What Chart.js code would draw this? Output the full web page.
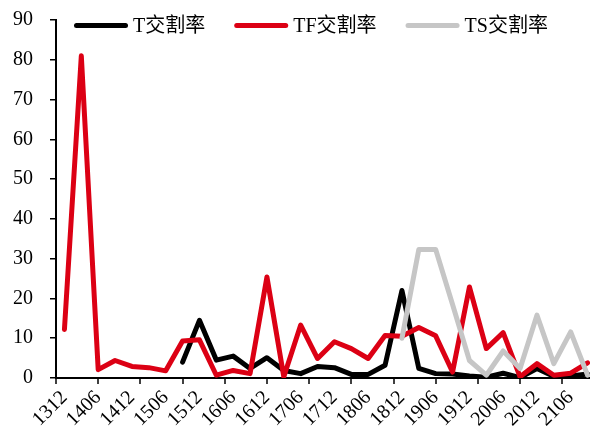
<!DOCTYPE html>
<html>
<head>
<meta charset="utf-8">
<script src="https://cdn.jsdelivr.net/npm/chart.js@4/dist/chart.umd.min.js"></script>
<style>
  html, body { margin: 0; padding: 0; overflow: hidden; background: #fff; }
  canvas { display: block; }
</style>
</head>
<body>
<canvas id="c" width="600" height="432"></canvas>
<script>
// Quarterly contracts, 1312 through 2109
const contracts = ['1312','1403','1406','1409','1412','1503','1506','1509','1512','1603','1606','1609',
  '1612','1703','1706','1709','1712','1803','1806','1809','1812','1903','1906','1909',
  '1912','2003','2006','2009','2012','2103','2106','2109'];

// Delivery rate (%) per contract
const tRate  = [null,null,null,null,null,null,null,4.0,14.5,4.5,5.5,2.4,
  5.1,1.9,1.1,2.9,2.6,0.9,0.9,3.2,22.0,2.4,1.1,1.0,
  0.5,0.2,1.2,0.1,2.4,0.4,0.5,1.0];
const tfRate = [12.2,81.0,2.1,4.4,2.9,2.6,1.8,9.3,9.6,0.7,1.9,1.1,
  25.4,0.3,13.3,4.9,9.1,7.4,4.9,10.7,10.5,12.7,10.6,1.5,
  22.9,7.4,11.4,0.3,3.6,0.7,1.2,3.8];
const tsRate = [null,null,null,null,null,null,null,null,null,null,null,null,
  null,null,null,null,null,null,null,null,10.0,32.3,32.3,18.5,
  4.4,0.7,6.8,2.4,15.8,3.6,11.6,0.7];

const seriesNames = ['T交割率', 'TF交割率', 'TS交割率'];
const yTicks = { min: 0, max: 90, step: 10 };

const FONT = "'Liberation Serif', 'Times New Roman', 'Noto Sans CJK SC', serif";

// Tick marks on the category axis fall every 2.5 contracts
const tickMarks = {
  id: 'tickMarks',
  afterDraw(chart) {
    const x = chart.scales.x;
    const ctx = chart.ctx;
    ctx.save();
    ctx.strokeStyle = '#000';
    ctx.lineWidth = 1.5;
    for (let v = -0.5; v <= contracts.length - 0.5; v += 2.5) {
      const px = Math.round(x.getPixelForValue(v));
      ctx.beginPath();
      ctx.moveTo(px, x.top);
      ctx.lineTo(px, x.top + 6);
      ctx.stroke();
    }
    ctx.restore();
  }
};

// One-row legend drawn inside the top of the plot
const legendRow = {
  id: 'legendRow',
  afterDraw(chart) {
    const ctx = chart.ctx;
    const sets = chart.data.datasets;
    let x = 74;
    const y = 26.5;
    ctx.save();
    ctx.font = "20px " + FONT;
    ctx.textBaseline = 'middle';
    ctx.textAlign = 'left';
    sets.forEach(ds => {
      ctx.strokeStyle = ds.borderColor;
      ctx.lineWidth = 5;
      ctx.lineCap = 'round';
      ctx.beginPath();
      ctx.moveTo(x + 2.5, y - 1);
      ctx.lineTo(x + 51.5, y - 1);
      ctx.stroke();
      ctx.fillStyle = '#000';
      ctx.fillText(ds.label, x + 59, y);
      x += 59 + ctx.measureText(ds.label).width + 29;
    });
    ctx.restore();
  }
};

new Chart(document.getElementById('c'), {
  type: 'line',
  data: {
    labels: contracts,
    datasets: [
      { label: seriesNames[0], data: tRate,  borderColor: '#000000', order: 2 },
      { label: seriesNames[1], data: tfRate, borderColor: '#DC0014', order: 1 },
      { label: seriesNames[2], data: tsRate, borderColor: '#C6C6C6', order: 0 }
    ]
  },
  options: {
    responsive: false,
    devicePixelRatio: 1,
    animation: false,
    layout: { padding: { left: 0, top: 20, right: 4, bottom: 0 } },
    elements: {
      line: { borderWidth: 5, tension: 0, borderCapStyle: 'round', borderJoinStyle: 'round', fill: false },
      point: { radius: 0, hoverRadius: 0 }
    },
    plugins: {
      legend: { display: false },
      tooltip: { enabled: false }
    },
    scales: {
      x: {
        type: 'category',
        offset: true,
        grid: { display: true, drawOnChartArea: false, drawTicks: true, tickLength: 6, color: 'rgba(0,0,0,0)' },
        border: { display: true, color: '#000', width: 2 },
        ticks: {
          autoSkip: false,
          maxRotation: 45,
          minRotation: 45,
          padding: 2,
          color: '#000',
          font: { family: FONT, size: 20 },
          callback: (v, i) => (i % 2 === 0 ? contracts[i] : '')
        },
        afterFit(scale) {
          scale.height = 54;
          scale.paddingLeft = 0;
          scale.paddingRight = 0;
        }
      },
      y: {
        min: yTicks.min,
        max: yTicks.max,
        grid: { display: true, drawOnChartArea: false, drawTicks: true, tickLength: 6, color: '#000', lineWidth: 1.5 },
        border: { display: true, color: '#000', width: 2 },
        ticks: {
          stepSize: yTicks.step,
          padding: 17,
          color: '#000',
          font: { family: FONT, size: 20 }
        },
        afterFit(scale) {
          scale.width = 56;
          scale.paddingTop = 0;
          scale.paddingBottom = 0;
        }
      }
    }
  },
  plugins: [tickMarks, legendRow]
});
</script>
</body>
</html>
